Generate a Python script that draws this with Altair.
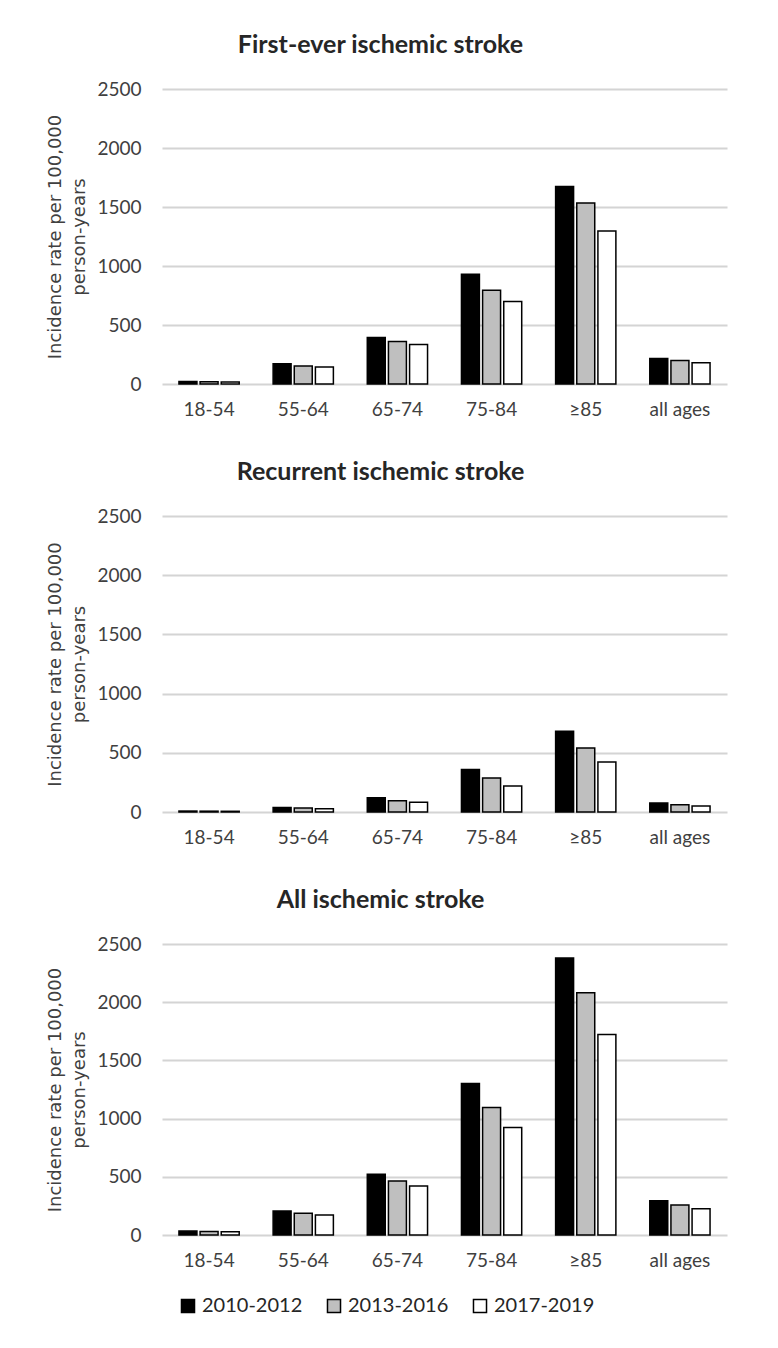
import altair as alt
import pandas as pd

ages = ["18-54", "55-64", "65-74", "75-84", "≥85", "all ages"]
periods = ["2010-2012", "2013-2016", "2017-2019"]

first_2010 = [22, 172, 395, 930, 1674, 217]
first_2013 = [19, 152, 361, 795, 1533, 200]
first_2017 = [18, 144, 335, 699, 1297, 180]

recur_2010 = [8, 39, 121, 360, 683, 76]
recur_2013 = [7, 34, 96, 287, 540, 62]
recur_2017 = [6, 28, 82, 219, 422, 51]

all_2010 = [34, 206, 522, 1302, 2380, 295]
all_2013 = [29, 186, 464, 1095, 2081, 258]
all_2017 = [28, 172, 421, 923, 1723, 226]

y_ticks = [0, 500, 1000, 1500, 2000, 2500]
colors = ["#000000", "#bfbfbf", "#ffffff"]

NARROW = "Lato"
WIDE = "DejaVu Sans"


def make_df(series):
    rows = []
    for p, vals in zip(periods, series):
        for a, v in zip(ages, vals):
            rows.append({"age": a, "period": p, "rate": v})
    return pd.DataFrame(rows)


def panel(title, series, h):
    df = make_df(series)
    return (
        alt.Chart(df)
        .mark_bar(stroke="black", strokeWidth=1.5)
        .encode(
            x=alt.X(
                "age:N",
                sort=ages,
                scale=alt.Scale(paddingInner=0.36, paddingOuter=0.18),
                axis=alt.Axis(
                    title=None,
                    labelAngle=0,
                    domain=False,
                    ticks=False,
                    tickSize=0,
                    labelPadding=16,
                    labelFont=NARROW,
                    labelFontSize=19,
                    labelColor="#404040",
                    grid=False,
                ),
            ),
            xOffset=alt.XOffset(
                "period:N", sort=periods, scale=alt.Scale(paddingInner=0.15)
            ),
            y=alt.Y(
                "rate:Q",
                scale=alt.Scale(domain=[0, 2500], nice=False),
                axis=alt.Axis(
                    values=y_ticks,
                    format="d",
                    title=["Incidence rate per 100,000", "person-years"],
                    titleFont=WIDE,
                    titleFontSize=18,
                    titleFontWeight="normal",
                    titleColor="#404040",
                    titleLineHeight=24,
                    titlePadding=8,
                    domain=False,
                    ticks=False,
                    tickSize=0,
                    labelPadding=21,
                    labelFont=NARROW,
                    labelFontSize=19,
                    labelColor="#404040",
                    grid=True,
                    gridColor="#d4d4d4",
                    gridWidth=1.8,
                ),
            ),
            color=alt.Color(
                "period:N",
                sort=periods,
                scale=alt.Scale(domain=periods, range=colors),
                legend=alt.Legend(
                    title=None,
                    orient="none",
                    legendX=16,
                    legendY=1207,
                    direction="horizontal",
                    symbolType="square",
                    symbolSize=170,
                    symbolStrokeColor="black",
                    symbolStrokeWidth=1.5,
                    symbolOpacity=1,
                    labelFont=NARROW,
                    labelFontSize=20,
                    labelColor="#262626",
                    labelOffset=4,
                    columnPadding=21,
                ),
            ),
        )
        .properties(
            width=565,
            height=h,
            title=alt.Title(
                title,
                font=NARROW,
                fontSize=25,
                fontWeight="bold",
                color="#262626",
                anchor="middle",
                frame="group",
                dx=-64,
                offset=22,
            ),
        )
    )


chart = (
    alt.vconcat(
        panel("First-ever ischemic stroke", [first_2010, first_2013, first_2017], 295),
        panel("Recurrent ischemic stroke", [recur_2010, recur_2013, recur_2017], 296),
        panel("All ischemic stroke", [all_2010, all_2013, all_2017], 291),
        spacing=41,
    )
    .properties(padding={"left": 38, "top": 25, "right": 40, "bottom": 20}, background="white")
    .configure_view(stroke=None)
)

chart.save("out.html", embed_options={"renderer": "svg", "actions": False})
